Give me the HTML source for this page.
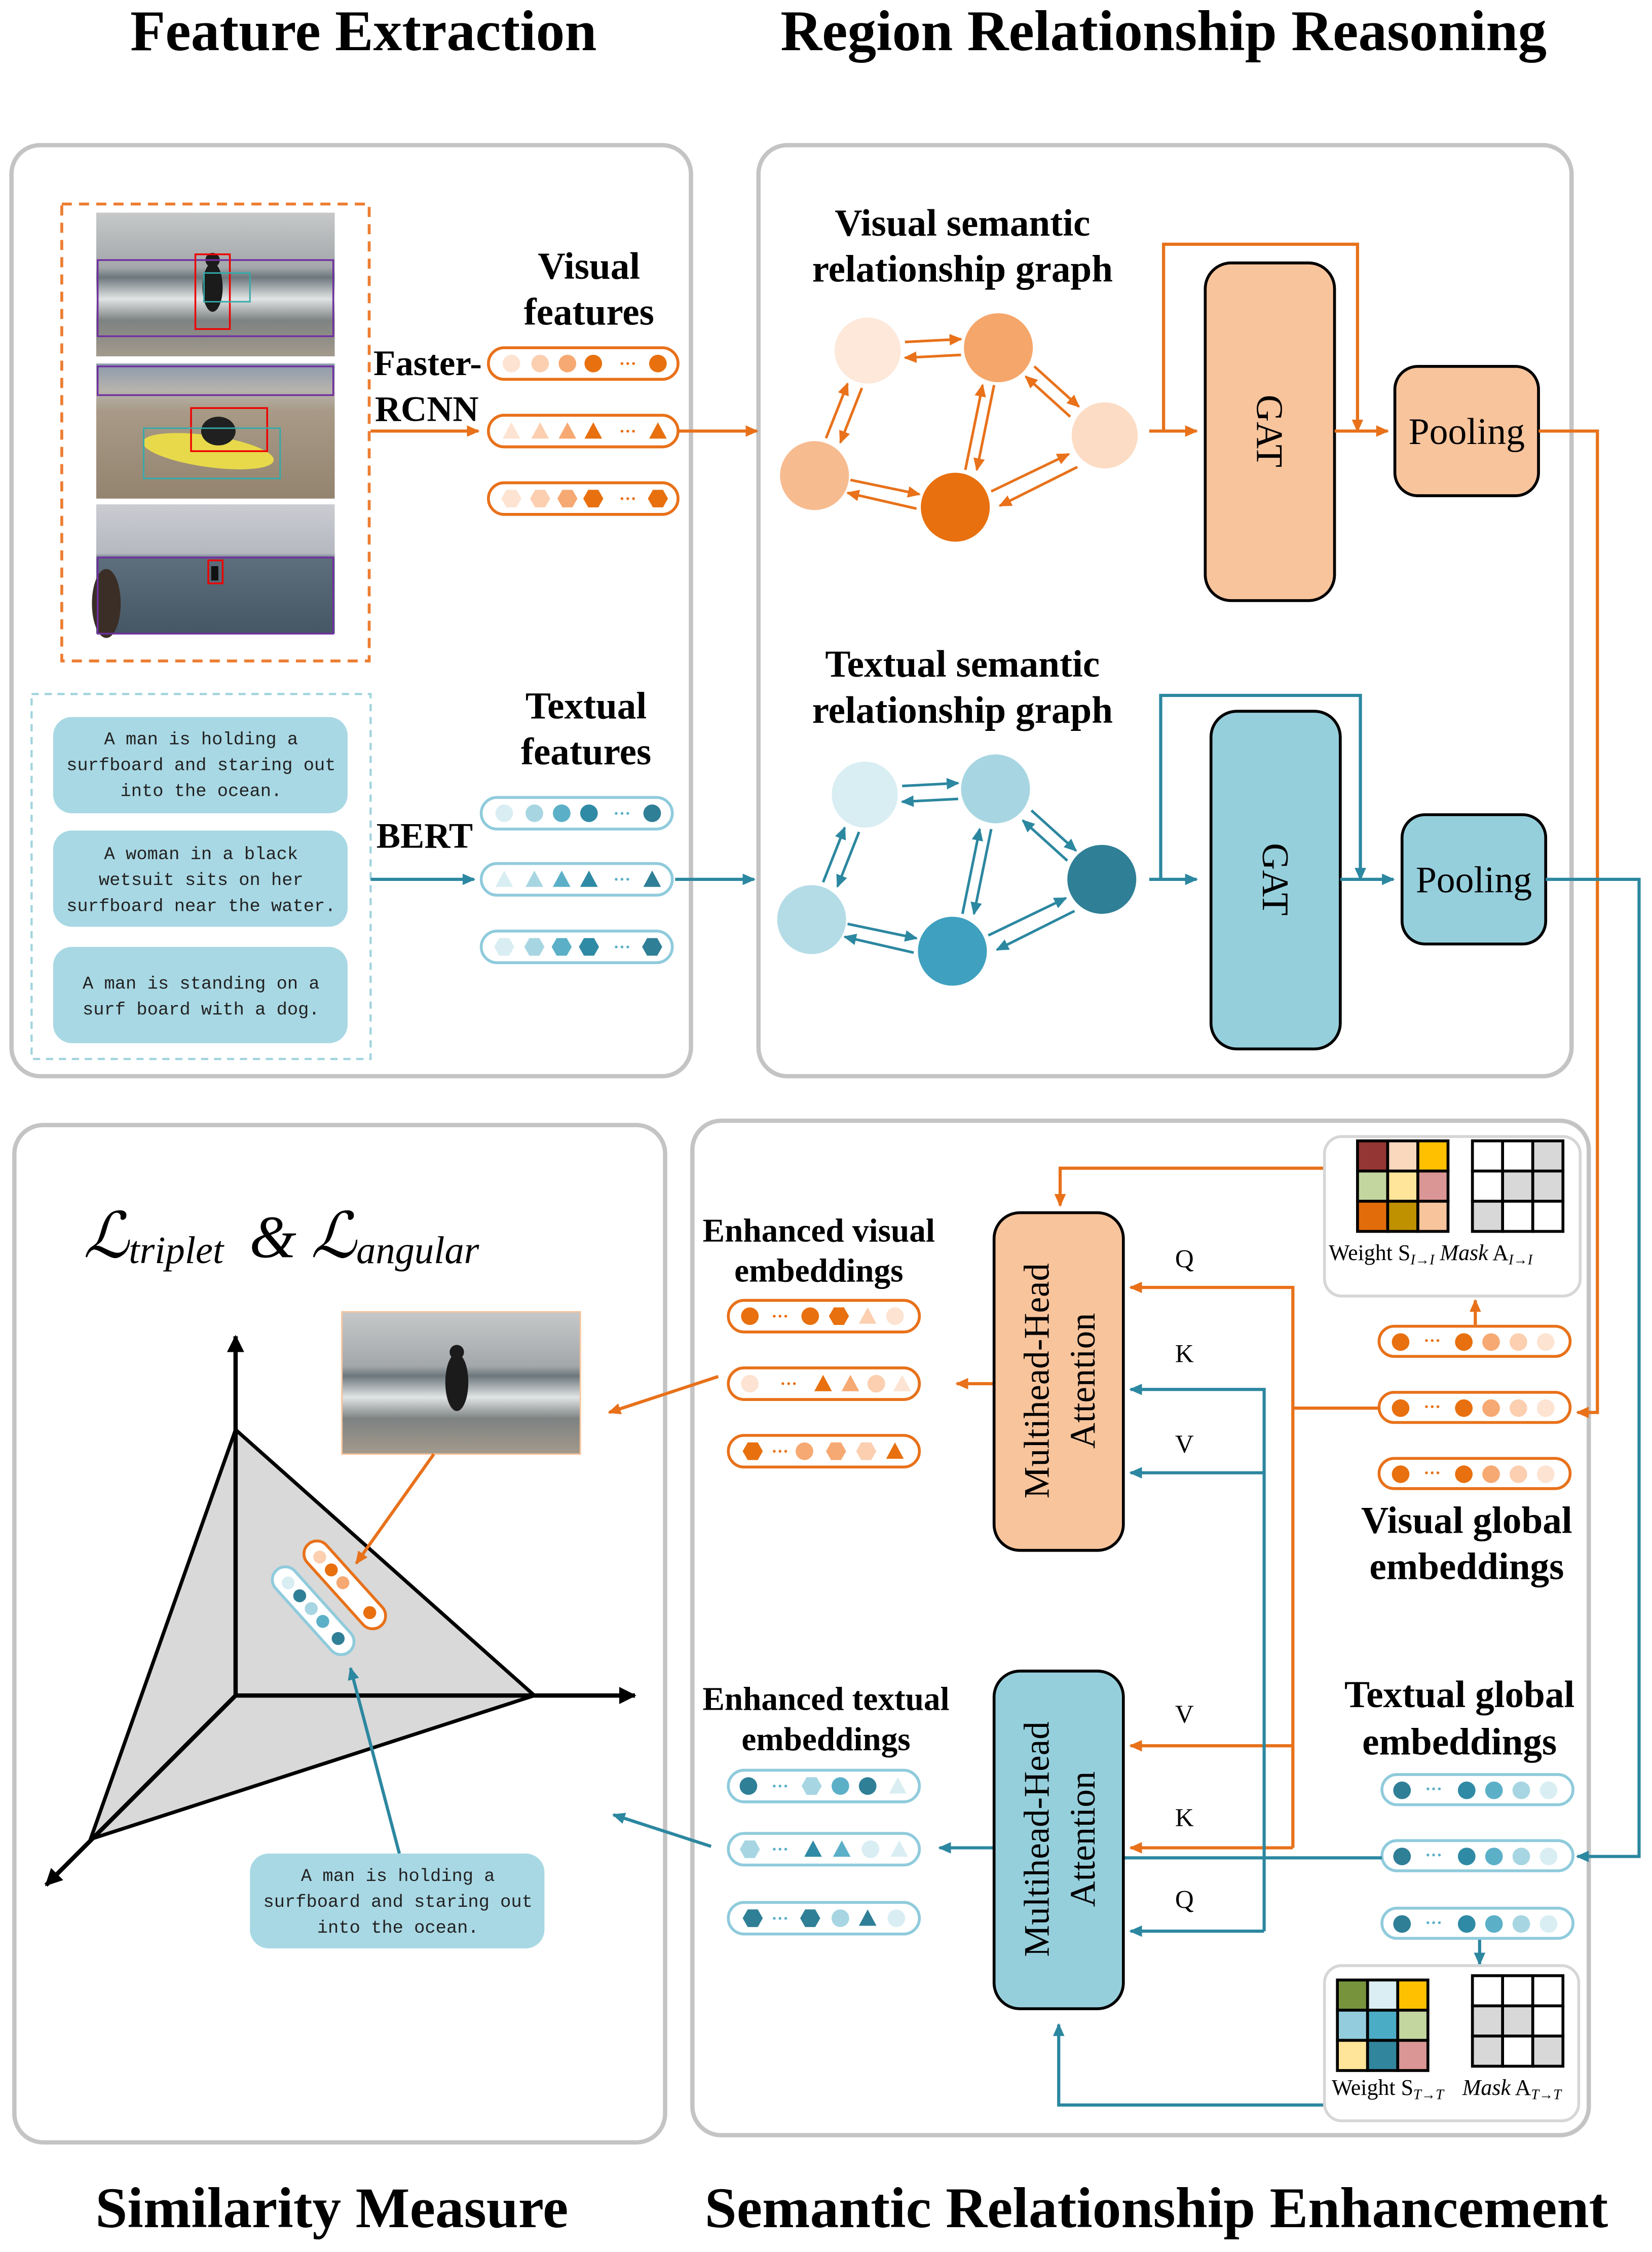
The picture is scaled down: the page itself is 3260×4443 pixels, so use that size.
<!DOCTYPE html>
<html><head><meta charset="utf-8"><style>html,body{margin:0;padding:0;background:#fff}svg{display:block}</style></head><body>
<svg xmlns="http://www.w3.org/2000/svg" width="3260" height="4443" viewBox="0 0 1150 1567.3" preserveAspectRatio="none" font-family="'Liberation Serif', serif">
<defs>
<marker id="mo" markerWidth="10" markerHeight="10" refX="8" refY="5" orient="auto" markerUnits="userSpaceOnUse"><path d="M0,1 L9,5 L0,9 z" fill="#e8711a"/></marker>
<marker id="mt" markerWidth="10" markerHeight="10" refX="8" refY="5" orient="auto" markerUnits="userSpaceOnUse"><path d="M0,1 L9,5 L0,9 z" fill="#2c87a0"/></marker>
<marker id="mk" markerWidth="14" markerHeight="14" refX="11" refY="7" orient="auto" markerUnits="userSpaceOnUse"><path d="M0,1 L12,7 L0,13 z" fill="#000"/></marker>
<symbol id="c" viewBox="-8 -8 16 16" overflow="visible"><circle r="7"/></symbol>
<symbol id="t" viewBox="-8 -8 16 16" overflow="visible"><path d="M0,-7 L7,6 L-7,6 z"/></symbol>
<symbol id="h" viewBox="-8 -8 16 16" overflow="visible"><path d="M-8,0 L-4,-7 L4,-7 L8,0 L4,7 L-4,7 z"/></symbol>
<linearGradient id="img1" x1="0" y1="0" x2="0" y2="1"><stop offset="0" stop-color="#c6c8c9"/><stop offset="0.38" stop-color="#a4a8aa"/><stop offset="0.45" stop-color="#6c777c"/><stop offset="0.6" stop-color="#e1e4e4"/><stop offset="0.75" stop-color="#7d8282"/><stop offset="1" stop-color="#a39a8c"/></linearGradient>
<linearGradient id="img2" x1="0" y1="0" x2="0" y2="1"><stop offset="0" stop-color="#8c99ad"/><stop offset="0.2" stop-color="#b7b4ad"/><stop offset="0.35" stop-color="#a89a86"/><stop offset="1" stop-color="#938470"/></linearGradient>
<linearGradient id="img3" x1="0" y1="0" x2="0" y2="1"><stop offset="0" stop-color="#cbccd2"/><stop offset="0.38" stop-color="#b5b8c0"/><stop offset="0.42" stop-color="#5d6e7c"/><stop offset="1" stop-color="#455665"/></linearGradient>
</defs>
<rect width="1150" height="1568" fill="#fff"/>
<!-- titles -->
<g font-weight="bold" font-size="40" text-anchor="middle" fill="#000">
<text x="253" y="35">Feature Extraction</text>
<text x="810" y="35">Region Relationship Reasoning</text>
<text x="231" y="1550">Similarity Measure</text>
<text x="805" y="1550">Semantic Relationship Enhancement</text>
</g>
<!-- panels -->
<g fill="none" stroke="#c4c4c4" stroke-width="3">
<rect x="8" y="101" width="473" height="648" rx="20"/>
<rect x="528" y="101" width="566" height="648" rx="20"/>
<rect x="10" y="783" width="453" height="708" rx="20"/>
<rect x="482" y="780" width="624" height="706" rx="20"/>
</g>
<!-- images -->
<rect x="43" y="142" width="214" height="318" fill="none" stroke="#ed7d31" stroke-width="2" stroke-dasharray="7,5"/>
<rect x="67" y="148" width="166" height="100" fill="url(#img1)"/>
<ellipse cx="148" cy="200" rx="7" ry="17" fill="#1b1b1b"/><circle cx="148" cy="181" r="5" fill="#1b1b1b"/>
<rect x="68" y="181" width="164" height="53" fill="none" stroke="#7030a0" stroke-width="1.2"/>
<rect x="136" y="177" width="24" height="52" fill="none" stroke="#e00" stroke-width="1.2"/>
<rect x="142" y="190" width="32" height="20" fill="none" stroke="#3aa" stroke-width="1"/>
<rect x="67" y="253" width="166" height="94" fill="url(#img2)"/>
<rect x="68" y="255" width="164" height="20" fill="none" stroke="#7030a0" stroke-width="1.2"/>
<ellipse cx="145" cy="314" rx="46" ry="11" fill="#e8d94a" transform="rotate(8 145 314)"/>
<ellipse cx="152" cy="300" rx="12" ry="10" fill="#202020"/>
<rect x="133" y="284" width="53" height="30" fill="none" stroke="#e00" stroke-width="1.2"/>
<rect x="100" y="298" width="95" height="35" fill="none" stroke="#3aa" stroke-width="1"/>
<rect x="67" y="351" width="166" height="90" fill="url(#img3)"/>
<ellipse cx="74" cy="420" rx="10" ry="24" fill="#3a2e26"/>
<rect x="68" y="388" width="164" height="53" fill="none" stroke="#7030a0" stroke-width="1.2"/>
<rect x="145" y="390" width="10" height="16" fill="none" stroke="#e00" stroke-width="1.2"/>
<rect x="147" y="394" width="5" height="10" fill="#111"/>
<!-- text boxes -->
<rect x="22" y="483" width="236" height="254" fill="none" stroke="#9fd3dd" stroke-width="1.5" stroke-dasharray="5,4"/>
<g fill="#a8d8e4"><rect x="37" y="499" width="205" height="67" rx="13"/><rect x="37" y="578" width="205" height="67" rx="13"/><rect x="37" y="659" width="205" height="67" rx="13"/></g>
<g font-family="'Liberation Mono', monospace" font-size="12.5" text-anchor="middle" fill="#222">
<text x="140" y="518">A man is holding a</text><text x="140" y="536">surfboard and staring out</text><text x="140" y="554">into the ocean.</text>
<text x="140" y="598">A woman in a black</text><text x="140" y="616">wetsuit sits on her</text><text x="140" y="634">surfboard near the water.</text>
<text x="140" y="688">A man is standing on a</text><text x="140" y="706">surf board with a dog.</text>
</g>
<!-- feature labels -->
<g font-weight="bold" font-size="26.5" text-anchor="middle">
<text x="410" y="194">Visual</text><text x="410" y="226">features</text>
<text x="408" y="500">Textual</text><text x="408" y="532">features</text>
<text x="670" y="164">Visual semantic</text><text x="670" y="196">relationship graph</text>
<text x="670" y="471">Textual semantic</text><text x="670" y="503">relationship graph</text>
<text x="1021" y="1067">Visual global</text><text x="1021" y="1099">embeddings</text>
<text x="1016" y="1188">Textual global</text><text x="1016" y="1221">embeddings</text>
</g>
<g font-weight="bold" font-size="25">
<text x="260" y="261">Faster-</text><text x="261" y="293">RCNN</text><text x="262" y="590">BERT</text>
</g>
<g font-weight="bold" font-size="23" text-anchor="middle">
<text x="570" y="864">Enhanced visual</text><text x="570" y="892">embeddings</text>
<text x="575" y="1190">Enhanced textual</text><text x="575" y="1218">embeddings</text>
</g>
<!-- arrows feature stage -->
<g stroke-width="2.2" fill="none">
<line x1="258" y1="300" x2="333" y2="300" stroke="#e8711a" marker-end="url(#mo)"/>
<line x1="472" y1="300" x2="527" y2="300" stroke="#e8711a" marker-end="url(#mo)"/>
<line x1="258" y1="612" x2="330" y2="612" stroke="#2c87a0" marker-end="url(#mt)"/>
<line x1="470" y1="612" x2="525" y2="612" stroke="#2c87a0" marker-end="url(#mt)"/>
</g>
<!-- pills -->
<g fill="#fff" stroke="#e8711a" stroke-width="2">
<rect x="340" y="242" width="132" height="22" rx="11"/><rect x="340" y="289" width="132" height="22" rx="11"/><rect x="340" y="336" width="132" height="22" rx="11"/>
<rect x="507" y="905" width="133" height="22" rx="11"/><rect x="507" y="952" width="133" height="22" rx="11"/><rect x="507" y="999" width="133" height="22" rx="11"/>
<rect x="960" y="923" width="133" height="21" rx="10.5"/><rect x="960" y="969" width="133" height="21" rx="10.5"/><rect x="960" y="1015" width="133" height="21" rx="10.5"/>
</g>
<g fill="#fff" stroke="#8fcbdc" stroke-width="2">
<rect x="335" y="555" width="133" height="22" rx="11"/><rect x="335" y="601" width="133" height="22" rx="11"/><rect x="335" y="648" width="133" height="22" rx="11"/>
<rect x="507" y="1232" width="133" height="22" rx="11"/><rect x="507" y="1276" width="133" height="22" rx="11"/><rect x="507" y="1324" width="133" height="22" rx="11"/>
<rect x="962" y="1235" width="133" height="21" rx="10.5"/><rect x="962" y="1281" width="133" height="21" rx="10.5"/><rect x="962" y="1328" width="133" height="21" rx="10.5"/>
</g>
<g font-size="12" font-weight="bold" text-anchor="middle">
<g fill="#e8711a"><text x="437" y="257">···</text><text x="437" y="304">···</text><text x="437" y="351">···</text>
<text x="543" y="920">···</text><text x="549" y="967">···</text><text x="543" y="1014">···</text>
<text x="997" y="937">···</text><text x="997" y="983">···</text><text x="997" y="1029">···</text></g>
<g fill="#5bb0c8"><text x="433" y="570">···</text><text x="433" y="616">···</text><text x="433" y="663">···</text>
<text x="543" y="1247">···</text><text x="543" y="1291">···</text><text x="543" y="1339">···</text>
<text x="998" y="1249">···</text><text x="998" y="1295">···</text><text x="998" y="1342">···</text></g>
</g>
<use href="#c" x="349" y="246" width="14" height="14" fill="#fde3d1"/><use href="#c" x="369" y="246" width="14" height="14" fill="#fbcfb0"/><use href="#c" x="388" y="246" width="14" height="14" fill="#f6a972"/><use href="#c" x="406" y="246" width="14" height="14" fill="#e8700e"/><use href="#c" x="451" y="246" width="14" height="14" fill="#e8700e"/>
<use href="#t" x="349" y="293" width="14" height="14" fill="#fde3d1"/><use href="#t" x="369" y="293" width="14" height="14" fill="#fbcfb0"/><use href="#t" x="388" y="293" width="14" height="14" fill="#f6a972"/><use href="#t" x="406" y="293" width="14" height="14" fill="#e8700e"/><use href="#t" x="451" y="293" width="14" height="14" fill="#e8700e"/>
<use href="#h" x="349" y="340" width="14" height="14" fill="#fde3d1"/><use href="#h" x="369" y="340" width="14" height="14" fill="#fbcfb0"/><use href="#h" x="388" y="340" width="14" height="14" fill="#f6a972"/><use href="#h" x="406" y="340" width="14" height="14" fill="#e8700e"/><use href="#h" x="451" y="340" width="14" height="14" fill="#e8700e"/>
<use href="#c" x="344" y="559" width="14" height="14" fill="#d9eef3"/><use href="#c" x="365" y="559" width="14" height="14" fill="#a7d6e2"/><use href="#c" x="384" y="559" width="14" height="14" fill="#5bb0c8"/><use href="#c" x="403" y="559" width="14" height="14" fill="#2f8aa5"/><use href="#c" x="447" y="559" width="14" height="14" fill="#2f7f96"/>
<use href="#t" x="344" y="605" width="14" height="14" fill="#d9eef3"/><use href="#t" x="365" y="605" width="14" height="14" fill="#a7d6e2"/><use href="#t" x="384" y="605" width="14" height="14" fill="#5bb0c8"/><use href="#t" x="403" y="605" width="14" height="14" fill="#2f8aa5"/><use href="#t" x="447" y="605" width="14" height="14" fill="#2f7f96"/>
<use href="#h" x="344" y="652" width="14" height="14" fill="#d9eef3"/><use href="#h" x="365" y="652" width="14" height="14" fill="#a7d6e2"/><use href="#h" x="384" y="652" width="14" height="14" fill="#5bb0c8"/><use href="#h" x="403" y="652" width="14" height="14" fill="#2f8aa5"/><use href="#h" x="447" y="652" width="14" height="14" fill="#2f7f96"/>
<use href="#c" x="515" y="909" width="14" height="14" fill="#e8700e"/><use href="#c" x="557" y="909" width="14" height="14" fill="#e8700e"/><use href="#h" x="577" y="909" width="14" height="14" fill="#e8700e"/><use href="#t" x="597" y="909" width="14" height="14" fill="#fbcfb0"/><use href="#c" x="616" y="909" width="14" height="14" fill="#fde3d1"/>
<use href="#c" x="515" y="956" width="14" height="14" fill="#fde3d1"/><use href="#t" x="566" y="956" width="14" height="14" fill="#e8700e"/><use href="#t" x="585" y="956" width="14" height="14" fill="#f6a972"/><use href="#c" x="603" y="956" width="14" height="14" fill="#fbcfb0"/><use href="#t" x="621" y="956" width="14" height="14" fill="#fde3d1"/>
<use href="#h" x="517" y="1003" width="14" height="14" fill="#e8700e"/><use href="#c" x="553" y="1003" width="14" height="14" fill="#f6a972"/><use href="#h" x="575" y="1003" width="14" height="14" fill="#f6a972"/><use href="#h" x="596" y="1003" width="14" height="14" fill="#fbcfb0"/><use href="#t" x="616" y="1003" width="14" height="14" fill="#e8700e"/>
<use href="#c" x="968" y="927" width="14" height="14" fill="#e8700e"/><use href="#c" x="1012" y="927" width="14" height="14" fill="#e8700e"/><use href="#c" x="1031" y="927" width="14" height="14" fill="#f6a972"/><use href="#c" x="1050" y="927" width="14" height="14" fill="#fbcfb0"/><use href="#c" x="1069" y="927" width="14" height="14" fill="#fde3d1"/>
<use href="#c" x="968" y="973" width="14" height="14" fill="#e8700e"/><use href="#c" x="1012" y="973" width="14" height="14" fill="#e8700e"/><use href="#c" x="1031" y="973" width="14" height="14" fill="#f6a972"/><use href="#c" x="1050" y="973" width="14" height="14" fill="#fbcfb0"/><use href="#c" x="1069" y="973" width="14" height="14" fill="#fde3d1"/>
<use href="#c" x="968" y="1019" width="14" height="14" fill="#e8700e"/><use href="#c" x="1012" y="1019" width="14" height="14" fill="#e8700e"/><use href="#c" x="1031" y="1019" width="14" height="14" fill="#f6a972"/><use href="#c" x="1050" y="1019" width="14" height="14" fill="#fbcfb0"/><use href="#c" x="1069" y="1019" width="14" height="14" fill="#fde3d1"/>
<use href="#c" x="514" y="1236" width="14" height="14" fill="#2f7f96"/><use href="#h" x="558" y="1236" width="14" height="14" fill="#a7d6e2"/><use href="#c" x="578" y="1236" width="14" height="14" fill="#5bb0c8"/><use href="#c" x="597" y="1236" width="14" height="14" fill="#2f7f96"/><use href="#t" x="618" y="1236" width="14" height="14" fill="#d9eef3"/>
<use href="#h" x="515" y="1280" width="14" height="14" fill="#a7d6e2"/><use href="#t" x="559" y="1280" width="14" height="14" fill="#2f8aa5"/><use href="#t" x="579" y="1280" width="14" height="14" fill="#5bb0c8"/><use href="#c" x="599" y="1280" width="14" height="14" fill="#d9eef3"/><use href="#t" x="619" y="1280" width="14" height="14" fill="#d9eef3"/>
<use href="#h" x="517" y="1328" width="14" height="14" fill="#2f7f96"/><use href="#h" x="557" y="1328" width="14" height="14" fill="#2f7f96"/><use href="#c" x="578" y="1328" width="14" height="14" fill="#a7d6e2"/><use href="#t" x="597" y="1328" width="14" height="14" fill="#2f7f96"/><use href="#c" x="617" y="1328" width="14" height="14" fill="#d9eef3"/>
<use href="#c" x="969" y="1239" width="14" height="14" fill="#2f7f96"/><use href="#c" x="1014" y="1239" width="14" height="14" fill="#2f8aa5"/><use href="#c" x="1033" y="1239" width="14" height="14" fill="#5bb0c8"/><use href="#c" x="1052" y="1239" width="14" height="14" fill="#a7d6e2"/><use href="#c" x="1071" y="1239" width="14" height="14" fill="#d9eef3"/>
<use href="#c" x="969" y="1285" width="14" height="14" fill="#2f7f96"/><use href="#c" x="1014" y="1285" width="14" height="14" fill="#2f8aa5"/><use href="#c" x="1033" y="1285" width="14" height="14" fill="#5bb0c8"/><use href="#c" x="1052" y="1285" width="14" height="14" fill="#a7d6e2"/><use href="#c" x="1071" y="1285" width="14" height="14" fill="#d9eef3"/>
<use href="#c" x="969" y="1332" width="14" height="14" fill="#2f7f96"/><use href="#c" x="1014" y="1332" width="14" height="14" fill="#2f8aa5"/><use href="#c" x="1033" y="1332" width="14" height="14" fill="#5bb0c8"/><use href="#c" x="1052" y="1332" width="14" height="14" fill="#a7d6e2"/><use href="#c" x="1071" y="1332" width="14" height="14" fill="#d9eef3"/>
<!-- visual graph -->
<g stroke-width="1.8" fill="none" stroke="#e8711a">
<line x1="630" y1="238" x2="669" y2="236" marker-end="url(#mo)"/><line x1="669" y1="247" x2="630" y2="249" marker-end="url(#mo)"/>
<line x1="720" y1="255" x2="751" y2="283" marker-end="url(#mo)"/><line x1="745" y1="290" x2="714" y2="262" marker-end="url(#mo)"/>
<line x1="600" y1="270" x2="585" y2="308" marker-end="url(#mo)"/><line x1="575" y1="305" x2="590" y2="267" marker-end="url(#mo)"/>
<line x1="692" y1="268" x2="680" y2="327" marker-end="url(#mo)"/><line x1="672" y1="327" x2="684" y2="268" marker-end="url(#mo)"/>
<line x1="592" y1="334" x2="640" y2="344" marker-end="url(#mo)"/><line x1="638" y1="354" x2="590" y2="343" marker-end="url(#mo)"/>
<line x1="690" y1="342" x2="744" y2="316" marker-end="url(#mo)"/><line x1="750" y1="325" x2="696" y2="352" marker-end="url(#mo)"/>
</g>
<circle cx="604" cy="244" r="23" fill="#fde8da"/><circle cx="695" cy="242" r="24" fill="#f5a66a"/><circle cx="769" cy="303" r="23" fill="#fcdcc4"/><circle cx="567" cy="331" r="24" fill="#f7bb90"/><circle cx="665" cy="353" r="24" fill="#e8700e"/>
<!-- textual graph -->
<g transform="translate(-2,309)" stroke-width="1.8" fill="none" stroke="#2c87a0">
<line x1="630" y1="238" x2="669" y2="236" marker-end="url(#mt)"/><line x1="669" y1="247" x2="630" y2="249" marker-end="url(#mt)"/>
<line x1="720" y1="255" x2="751" y2="283" marker-end="url(#mt)"/><line x1="745" y1="290" x2="714" y2="262" marker-end="url(#mt)"/>
<line x1="600" y1="270" x2="585" y2="308" marker-end="url(#mt)"/><line x1="575" y1="305" x2="590" y2="267" marker-end="url(#mt)"/>
<line x1="692" y1="268" x2="680" y2="327" marker-end="url(#mt)"/><line x1="672" y1="327" x2="684" y2="268" marker-end="url(#mt)"/>
<line x1="592" y1="334" x2="640" y2="344" marker-end="url(#mt)"/><line x1="638" y1="354" x2="590" y2="343" marker-end="url(#mt)"/>
<line x1="690" y1="342" x2="744" y2="316" marker-end="url(#mt)"/><line x1="750" y1="325" x2="696" y2="352" marker-end="url(#mt)"/>
</g>
<circle cx="602" cy="553" r="23" fill="#d9eef3"/><circle cx="693" cy="549" r="24" fill="#a7d6e2"/><circle cx="767" cy="612" r="24" fill="#2f7f96"/><circle cx="565" cy="640" r="24" fill="#b4dce6"/><circle cx="663" cy="662" r="24" fill="#3fa0bf"/>
<!-- GAT / pooling -->
<rect x="839" y="183" width="90" height="235" rx="18" fill="#f8c49c" stroke="#000" stroke-width="2"/>
<rect x="971" y="255" width="100" height="90" rx="16" fill="#f8c49c" stroke="#000" stroke-width="2"/>
<rect x="843" y="495" width="90" height="235" rx="18" fill="#96cfdc" stroke="#000" stroke-width="2"/>
<rect x="976" y="567" width="100" height="90" rx="16" fill="#96cfdc" stroke="#000" stroke-width="2"/>
<g font-size="26" text-anchor="middle">
<text x="1021" y="309">Pooling</text><text x="1026" y="621">Pooling</text>
<text transform="translate(875,300) rotate(90)">GAT</text><text transform="translate(879,612) rotate(90)">GAT</text>
</g>
<g stroke-width="2.2" fill="none">
<g stroke="#e8711a">
<line x1="800" y1="300" x2="833" y2="300" marker-end="url(#mo)"/>
<polyline points="810,300 810,170 945,170 945,300" marker-end="url(#mo)"/>
<line x1="929" y1="300" x2="966" y2="300" marker-end="url(#mo)"/>
<polyline points="1071,300 1112,300 1112,983 1098,983" marker-end="url(#mo)"/>
<line x1="960" y1="980" x2="900" y2="980"/>
<polyline points="900,1286 900,896 787,896" marker-end="url(#mo)"/>
<line x1="900" y1="1215" x2="787" y2="1215" marker-end="url(#mo)"/>
<line x1="900" y1="1286" x2="787" y2="1286" marker-end="url(#mo)"/>
<polyline points="922,813 738,813 738,839" marker-end="url(#mo)"/>
<line x1="1027" y1="922" x2="1027" y2="905" marker-end="url(#mo)"/>
<line x1="692" y1="963" x2="666" y2="963" marker-end="url(#mo)"/>
<line x1="500" y1="958" x2="424" y2="983" marker-end="url(#mo)"/>
</g>
<g stroke="#2c87a0">
<line x1="800" y1="612" x2="833" y2="612" marker-end="url(#mt)"/>
<polyline points="808,612 808,484 947,484 947,612" marker-end="url(#mt)"/>
<line x1="933" y1="612" x2="970" y2="612" marker-end="url(#mt)"/>
<polyline points="1076,612 1141,612 1141,1292 1098,1292" marker-end="url(#mt)"/>
<line x1="782" y1="1293" x2="962" y2="1293"/>
<polyline points="880,1344 880,967 787,967" marker-end="url(#mt)"/>
<line x1="880" y1="1025" x2="787" y2="1025" marker-end="url(#mt)"/>
<line x1="880" y1="1344" x2="787" y2="1344" marker-end="url(#mt)"/>
<line x1="1030" y1="1350" x2="1030" y2="1367" marker-end="url(#mt)"/>
<polyline points="922,1465 737,1465 737,1409" marker-end="url(#mt)"/>
<line x1="692" y1="1286" x2="654" y2="1286" marker-end="url(#mt)"/>
<line x1="495" y1="1285" x2="427" y2="1263" marker-end="url(#mt)"/>
</g>
</g>
<!-- MHA -->
<rect x="692" y="844" width="90" height="235" rx="18" fill="#f8c49c" stroke="#000" stroke-width="2"/>
<rect x="692" y="1163" width="90" height="235" rx="18" fill="#96cfdc" stroke="#000" stroke-width="2"/>
<g font-size="25" text-anchor="middle">
<text transform="translate(730,961) rotate(-90)">Multihead-Head</text><text transform="translate(762,961) rotate(-90)">Attention</text>
<text transform="translate(730,1280) rotate(-90)">Multihead-Head</text><text transform="translate(762,1280) rotate(-90)">Attention</text>
</g>
<g font-size="18">
<text x="818" y="882">Q</text><text x="818" y="948">K</text><text x="818" y="1011">V</text>
<text x="818" y="1199">V</text><text x="818" y="1271">K</text><text x="818" y="1328">Q</text>
</g>
<!-- weight/mask boxes -->
<rect x="922" y="791" width="178" height="111" rx="12" fill="#fff" stroke="#d6d6d6" stroke-width="2"/>
<g stroke="#000" stroke-width="2">
<rect x="945" y="794" width="21" height="21" fill="#943634"/><rect x="966" y="794" width="21" height="21" fill="#fad8be"/><rect x="987" y="794" width="21" height="21" fill="#ffc000"/>
<rect x="945" y="815" width="21" height="21" fill="#c4d6a0"/><rect x="966" y="815" width="21" height="21" fill="#fee599"/><rect x="987" y="815" width="21" height="21" fill="#d99694"/>
<rect x="945" y="836" width="21" height="21" fill="#e36c0a"/><rect x="966" y="836" width="21" height="21" fill="#bf9000"/><rect x="987" y="836" width="21" height="21" fill="#f8c49c"/>
<rect x="1025" y="794" width="21" height="21" fill="#fff"/><rect x="1046" y="794" width="21" height="21" fill="#fff"/><rect x="1067" y="794" width="21" height="21" fill="#d8d8d8"/>
<rect x="1025" y="815" width="21" height="21" fill="#fff"/><rect x="1046" y="815" width="21" height="21" fill="#d8d8d8"/><rect x="1067" y="815" width="21" height="21" fill="#d8d8d8"/>
<rect x="1025" y="836" width="21" height="21" fill="#d8d8d8"/><rect x="1046" y="836" width="21" height="21" fill="#fff"/><rect x="1067" y="836" width="21" height="21" fill="#fff"/>
</g>
<text x="925" y="877" font-size="15.5">Weight S<tspan font-size="10" font-style="italic" dy="3">I→I</tspan><tspan dy="-3" font-style="italic"> Mask</tspan> A<tspan font-size="10" font-style="italic" dy="3">I→I</tspan></text>
<rect x="922" y="1368" width="177" height="108" rx="12" fill="#fff" stroke="#d6d6d6" stroke-width="2"/>
<g stroke="#000" stroke-width="2">
<rect x="931" y="1378" width="21" height="21" fill="#77933c"/><rect x="952" y="1378" width="21" height="21" fill="#dbeef3"/><rect x="973" y="1378" width="21" height="21" fill="#ffc000"/>
<rect x="931" y="1399" width="21" height="21" fill="#93cddd"/><rect x="952" y="1399" width="21" height="21" fill="#4bacc6"/><rect x="973" y="1399" width="21" height="21" fill="#c4d6a0"/>
<rect x="931" y="1420" width="21" height="21" fill="#fee599"/><rect x="952" y="1420" width="21" height="21" fill="#31859c"/><rect x="973" y="1420" width="21" height="21" fill="#d99694"/>
<rect x="1025" y="1375" width="21" height="21" fill="#fff"/><rect x="1046" y="1375" width="21" height="21" fill="#fff"/><rect x="1067" y="1375" width="21" height="21" fill="#fff"/>
<rect x="1025" y="1396" width="21" height="21" fill="#d8d8d8"/><rect x="1046" y="1396" width="21" height="21" fill="#d8d8d8"/><rect x="1067" y="1396" width="21" height="21" fill="#fff"/>
<rect x="1025" y="1417" width="21" height="21" fill="#d8d8d8"/><rect x="1046" y="1417" width="21" height="21" fill="#fff"/><rect x="1067" y="1417" width="21" height="21" fill="#d8d8d8"/>
</g>
<text x="927" y="1458" font-size="15.5">Weight S<tspan font-size="10" font-style="italic" dy="3">T→T</tspan></text>
<text x="1018" y="1458" font-size="15.5"><tspan font-style="italic">Mask</tspan> A<tspan font-size="10" font-style="italic" dy="3">T→T</tspan></text>
<!-- similarity panel -->
<text x="58" y="875" font-size="44" font-style="italic">ℒ<tspan font-size="27" dy="4">triplet</tspan><tspan dy="-4" font-size="42" dx="18">&amp;</tspan><tspan dx="10">ℒ</tspan><tspan font-size="27" dy="4">angular</tspan></text>
<polygon points="164,995 372,1180 63,1280" fill="#d9d9d9" stroke="#000" stroke-width="2.5"/>
<g stroke="#000" stroke-width="3">
<line x1="164" y1="1180" x2="164" y2="930" marker-end="url(#mk)"/>
<line x1="164" y1="1180" x2="442" y2="1180" marker-end="url(#mk)"/>
<line x1="164" y1="1180" x2="32" y2="1312" marker-end="url(#mk)"/>
</g>
<rect x="238" y="913" width="166" height="99" fill="url(#img1)" stroke="#f8c49c"/>
<ellipse cx="318" cy="962" rx="8" ry="20" fill="#1b1b1b"/><circle cx="318" cy="941" r="5" fill="#1b1b1b"/>
<g transform="translate(240,1103) rotate(48)">
<rect x="-38" y="-9" width="76" height="18" rx="9" fill="#fff" stroke="#e8711a" stroke-width="2"/>
<circle cx="-26" cy="0" r="4.5" fill="#fbcfb0"/><circle cx="-14" cy="0" r="4.5" fill="#e8700e"/><circle cx="-2" cy="0" r="4.5" fill="#f6a972"/><circle cx="26" cy="0" r="4.5" fill="#e8700e"/>
</g>
<g transform="translate(218,1121) rotate(48)">
<rect x="-38" y="-9" width="76" height="18" rx="9" fill="#fff" stroke="#8fcbdc" stroke-width="2"/>
<circle cx="-26" cy="0" r="4.5" fill="#d9eef3"/><circle cx="-14" cy="0" r="4.5" fill="#2f7f96"/><circle cx="-2" cy="0" r="4.5" fill="#a7d6e2"/><circle cx="10" cy="0" r="4.5" fill="#5bb0c8"/><circle cx="26" cy="0" r="4.5" fill="#2f7f96"/>
</g>
<g stroke-width="2.2" fill="none">
<line x1="302" y1="1012" x2="248" y2="1088" stroke="#e8711a" marker-end="url(#mo)"/>
<line x1="278" y1="1290" x2="244" y2="1161" stroke="#2c87a0" marker-end="url(#mt)"/>
</g>
<rect x="174" y="1290" width="205" height="66" rx="13" fill="#a8d8e4"/>
<g font-family="'Liberation Mono', monospace" font-size="12.5" text-anchor="middle" fill="#222">
<text x="277" y="1309">A man is holding a</text><text x="277" y="1327">surfboard and staring out</text><text x="277" y="1345">into the ocean.</text>
</g>
</svg>
</body></html>
